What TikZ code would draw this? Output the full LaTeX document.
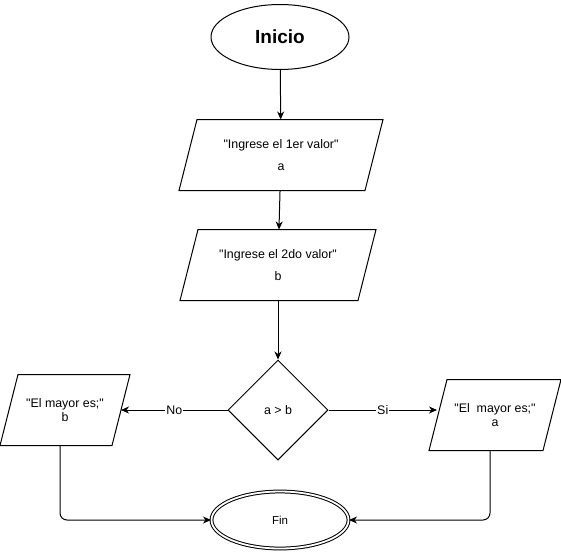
\documentclass[tikz,border=0pt]{standalone}
\usepackage{fontspec}
\setmainfont{Liberation Sans}
\usetikzlibrary{shapes.geometric,arrows.meta}
\def\colx{280}
\def\slant{18}

\tikzset{
  iobox/.style={minimum height=70, align=center, inner sep=0pt,
    append after command={\pgfextra{\draw[line width=1pt] ([xshift=\slant]\tikzlastnode.north west) -- (\tikzlastnode.north east)
      -- ([xshift=-\slant]\tikzlastnode.south east) -- (\tikzlastnode.south west) -- cycle;}}},
  txt/.style={font=\fontsize{12.4}{14.5}\selectfont}
}

\begin{document}
\begin{tikzpicture}[x=1pt, y=-1pt, line width=1pt, >={Stealth[length=8pt,width=7pt,inset=2.5pt]}, every node/.style={txt}]
            \useasboundingbox (0,0) rectangle (561,551);

            \node[draw, ellipse, minimum width=138, minimum height=65, font=\bfseries\fontsize{19}{21}\selectfont] (ini) at (\colx, 37) {Inicio};

            \node[iobox, minimum width=203] (p1) at (\colx+1, 155) {\textquotedbl Ingrese el 1er valor\textquotedbl\\[8pt]a};
            \node[iobox, minimum width=195] (p2) at (\colx-2, 265) {\textquotedbl Ingrese el 2do valor\textquotedbl\\[8pt]b};

            \node[draw, diamond, minimum width=100, minimum height=100, inner sep=0pt] (dia) at (\colx-2, 410) {a > b};

            \node[iobox, minimum width=129] (lp) at (65, 410) {\textquotedbl El mayor es;\textquotedbl\\[-1pt]b};
            \node[iobox, minimum width=131] (rp) at (495, 415) {\textquotedbl El\ \ mayor es;\textquotedbl\\[-1pt]a};

            \node[draw, ellipse, double, double distance=1.8pt, minimum width=137, minimum height=57, font=\fontsize{11.5}{13}\selectfont] (fin) at (\colx, 520) {Fin};

            \draw[->] (ini) -- (p1);
            \draw[->] (p1) -- (p2);
            \draw[->] (p2) -- (dia);
            \draw[->] (dia.west) -- node[fill=white, inner sep=1pt] {No} ([xshift=-\slant/2]lp.east |- dia.west);
            \draw[->] (dia.east) -- node[fill=white, inner sep=1pt] {Si} ([xshift=\slant/2-1]rp.west |- dia.east);
            \draw[->, rounded corners=7pt] ([xshift=-5]lp.south) |- (fin.west);
            \draw[->, rounded corners=7pt] ([xshift=-5]rp.south) |- (fin.east);
        \end{tikzpicture}
\end{document}
